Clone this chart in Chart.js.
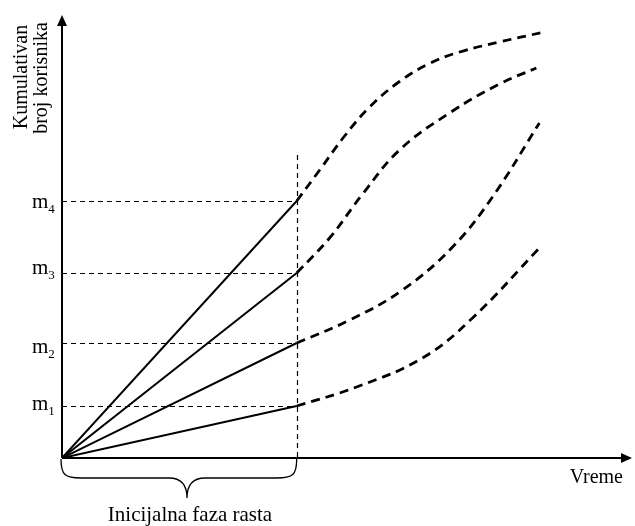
<!DOCTYPE html>
<html>
<head>
<meta charset="utf-8">
<script src="https://cdn.jsdelivr.net/npm/chart.js@4"></script>
<style>
  html, body { margin: 0; padding: 0; background: #fff; }
  #wrap { width: 635px; height: 526px; }
</style>
</head>
<body>
<div id="wrap"><canvas id="growth"></canvas></div>
<script>
// time axis: 0 .. 24.2, user axis: 0 .. 44.3 (arbitrary units)
const phaseEnd = 10;
const levelNames = ["1", "2", "3", "4"];
const levels = [5.2, 11.5, 18.5, 25.7];

// later growth after the initial phase, one curve per level
const curveM1 = [[10, 5.2], [12.55, 7.1], [15.36, 10.0], [17.49, 14.0], [20.34, 21.0]];
const curveM2 = [[10, 11.5], [12.26, 13.8], [14.51, 16.8], [16.64, 21.1], [18.34, 26.1], [20.34, 33.5]];
const curveM3 = [[10, 18.5], [11.4, 22.0], [12.81, 26.4], [14.38, 30.8], [16.51, 34.5], [18.64, 37.4], [20.21, 39.0]];
const curveM4 = [[10, 25.7], [10.98, 28.8], [12.04, 32.2], [13.11, 35.1], [14.38, 37.65], [15.66, 39.45], [16.94, 40.6], [18.64, 41.6], [20.55, 42.6]];
const guideTop = 30.3;

const xMax = 24.2, yMax = 44.3;
const serif = "'Liberation Serif', 'Times New Roman', serif";
// small vertical nudges of the m labels against their guide lines
const labelNudge = [4, 10, 1, 7];

const toPts = arr => arr.map(p => ({ x: p[0], y: p[1] }));

const datasets = [];
levels.forEach(v => {
  datasets.push({
    data: [{ x: 0, y: 0 }, { x: phaseEnd, y: v }],
    borderColor: "#000", borderWidth: 2, pointRadius: 0, tension: 0
  });
});
[curveM1, curveM2, curveM3, curveM4].forEach(c => {
  datasets.push({
    data: toPts(c),
    borderColor: "#000", borderWidth: 2.8, borderDash: [9, 6],
    pointRadius: 0, tension: 0.4
  });
});

// axes, guides, brace and all the text
const decor = {
  id: "decor",
  beforeDatasetsDraw(chart) {
    const { ctx, scales: { x, y } } = chart;
    const x0 = x.getPixelForValue(0), y0 = y.getPixelForValue(0);
    const xe = x.getPixelForValue(phaseEnd);
    ctx.save();
    ctx.strokeStyle = "#000";
    ctx.lineWidth = 1.2;
    ctx.setLineDash([5, 4]);
    levels.forEach(v => {
      const py = Math.round(y.getPixelForValue(v)) + 0.5;
      ctx.beginPath(); ctx.moveTo(x0, py); ctx.lineTo(xe, py); ctx.stroke();
    });
    ctx.beginPath();
    ctx.moveTo(Math.round(xe) + 0.5, y.getPixelForValue(guideTop));
    ctx.lineTo(Math.round(xe) + 0.5, y0);
    ctx.stroke();
    ctx.restore();
  },
  afterDraw(chart) {
    const { ctx, scales: { x, y } } = chart;
    const x0 = x.getPixelForValue(0), y0 = y.getPixelForValue(0);
    const xr = x.getPixelForValue(xMax), yt = y.getPixelForValue(yMax);
    const xe = x.getPixelForValue(phaseEnd);
    ctx.save();
    ctx.strokeStyle = "#000"; ctx.fillStyle = "#000";
    ctx.lineWidth = 2;
    ctx.beginPath();
    ctx.moveTo(x0, y0); ctx.lineTo(x0, yt + 8);
    ctx.moveTo(x0, y0); ctx.lineTo(xr - 8, y0);
    ctx.stroke();
    // arrow heads
    ctx.beginPath();
    ctx.moveTo(x0, yt); ctx.lineTo(x0 - 5, yt + 11); ctx.lineTo(x0 + 5, yt + 11); ctx.closePath(); ctx.fill();
    ctx.beginPath();
    ctx.moveTo(xr + 2, y0); ctx.lineTo(xr - 9, y0 - 5); ctx.lineTo(xr - 9, y0 + 5); ctx.closePath(); ctx.fill();

    // brace under the initial phase, tip slightly right of centre
    const bx1 = x0 - 1, bx2 = xe, bm = 187;
    const by = y0 + 1, bh = 39;
    ctx.lineWidth = 1.3;
    ctx.beginPath();
    ctx.moveTo(bx1, by);
    ctx.bezierCurveTo(bx1, by + 16, bx1 + 4, by + 19, bx1 + 20, by + 19);
    ctx.lineTo(bm - 18, by + 19);
    ctx.bezierCurveTo(bm - 6, by + 19, bm, by + 25, bm, by + bh);
    ctx.bezierCurveTo(bm, by + 25, bm + 6, by + 19, bm + 18, by + 19);
    ctx.lineTo(bx2 - 20, by + 19);
    ctx.bezierCurveTo(bx2 - 4, by + 19, bx2, by + 16, bx2, by);
    ctx.stroke();

    ctx.font = "21px " + serif;
    ctx.textAlign = "center"; ctx.textBaseline = "alphabetic";
    ctx.fillText("Inicijalna faza rasta", 190, y0 + 63);
    ctx.font = "20px " + serif;
    ctx.textAlign = "right";
    ctx.fillText("Vreme", xr - 7, y0 + 25);

    // level labels m1..m4
    levels.forEach((v, i) => {
      const py = y.getPixelForValue(v) + labelNudge[i];
      ctx.font = "21px " + serif;
      ctx.textAlign = "left"; ctx.textBaseline = "alphabetic";
      const mw = ctx.measureText("m").width;
      ctx.fillText("m", 32, py);
      ctx.font = "13px " + serif;
      ctx.fillText(levelNames[i], 32 + mw, py + 5);
    });

    // vertical axis title
    ctx.font = "20px " + serif;
    ctx.textAlign = "center"; ctx.textBaseline = "alphabetic";
    ctx.save();
    ctx.translate(27, 77); ctx.rotate(-Math.PI / 2);
    ctx.fillText("Kumulativan", 0, 0);
    ctx.restore();
    ctx.save();
    ctx.translate(47, 78); ctx.rotate(-Math.PI / 2);
    ctx.fillText("broj korisnika", 0, 0);
    ctx.restore();
    ctx.restore();
  }
};

new Chart(document.getElementById("growth"), {
  type: "line",
  data: { datasets },
  options: {
    responsive: true,
    maintainAspectRatio: false,
    animation: false,
    events: [],
    layout: { padding: { left: 62, right: 5, top: 15, bottom: 68 } },
    plugins: { legend: { display: false }, tooltip: { enabled: false } },
    scales: {
      x: { type: "linear", min: 0, max: xMax, display: false },
      y: { type: "linear", min: 0, max: yMax, display: false }
    }
  },
  plugins: [decor]
});
</script>
</body>
</html>
